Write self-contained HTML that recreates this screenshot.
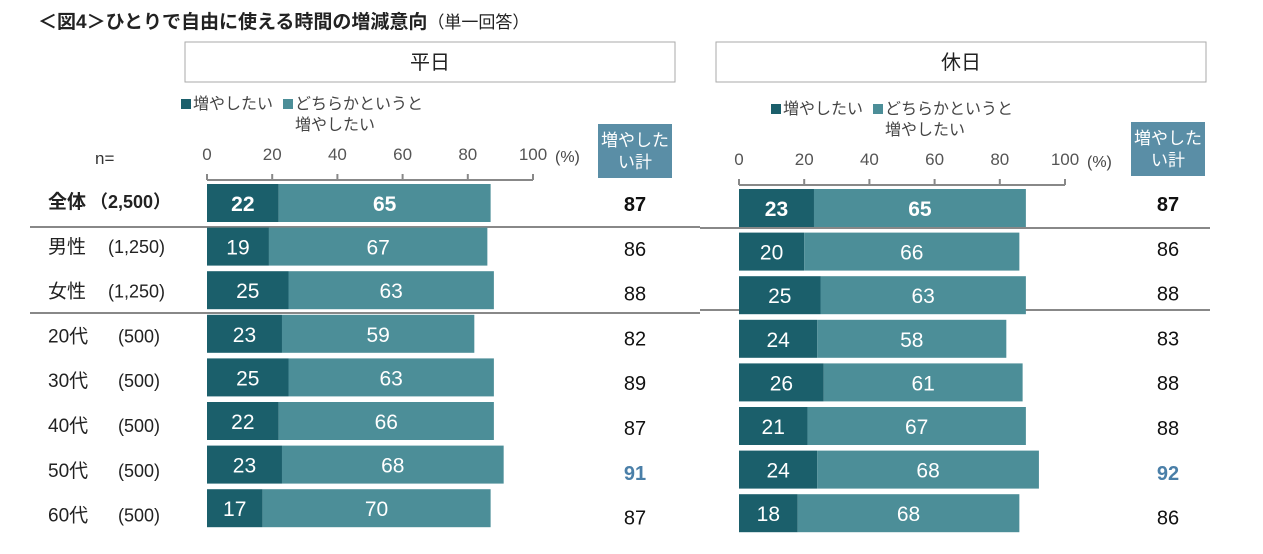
<!DOCTYPE html>
<html><head><meta charset="utf-8">
<style>
body{margin:0;width:1263px;height:549px;background:#fff;overflow:hidden;font-family:"Liberation Sans","Noto Sans CJK JP",sans-serif;}
svg text{font-family:"Liberation Sans","Noto Sans CJK JP",sans-serif;}
</style></head><body>
<svg id="c" width="1263" height="549">
<text x="38" y="28" font-size="19" font-weight="bold" fill="#222">＜図4＞ひとりで自由に使える時間の増減意向<tspan font-weight="normal" font-size="17">（単一回答）</tspan></text>
<text x="95" y="164" font-size="17" fill="#333">n=</text>
</svg>
<script>
const categories=["全体","男性","女性","20代","30代","40代","50代","60代"];
const nLabels=["(2,500)","(1,250)","(1,250)","(500)","(500)","(500)","(500)","(500)"];
const weekdayStrong=[22,19,25,23,25,22,23,17];
const weekdaySome=[65,67,63,59,63,66,68,70];
const weekdayTotal=[87,86,88,82,89,87,91,87];
const holidayStrong=[23,20,25,24,26,21,24,18];
const holidaySome=[65,66,63,58,61,67,68,68];
const holidayTotal=[87,86,88,83,88,88,92,86];
const ticks=[0,20,40,60,80,100];
const NS="http://www.w3.org/2000/svg";
const svg=document.getElementById('c');
function mk(t,a,p){const e=document.createElementNS(NS,t);for(const k in a)e.setAttribute(k,a[k]);(p||svg).appendChild(e);return e;}
const DARK="#1b5f6b",TEAL="#4c8e98";
categories.forEach((c,i)=>{
  const y=208+i*44.8;
  const b=i===0;
  const t=mk('text',{x:48,y:y,'font-size':19,fill:'#222','font-weight':b?'bold':'normal'});
  
  
  t.textContent=c;
  const n=mk('text',{x:b?90:(i<3?108:118),y:y,'font-size':18,fill:'#222','font-weight':b?'bold':'normal'});
  
  
  n.textContent=b?"（2,500）":nLabels[i];
});
function panel(title,px,x0,y0,strong,some,total,legX,legY,boxX,boxY,sepY,sepX1,sepX2){
  const sc=3.26;
  const xs=v=>x0+v*sc;
  const hb=mk('rect',{x:px,y:42,width:490,height:40,fill:'#fff',stroke:'#aaa'});
  
  
  const ht=mk('text',{x:px+245,y:69,'font-size':20,'text-anchor':'middle',fill:'#222'});
  
  
  ht.textContent=title;
  const l1=mk('rect',{x:legX,y:legY-10,width:10,height:10,fill:DARK});
  
  
  const lt1=mk('text',{x:legX+12,y:legY,'font-size':16,fill:'#444'});
  
  
  lt1.textContent="増やしたい";
  const l2=mk('rect',{x:legX+102,y:legY-10,width:10,height:10,fill:TEAL});
  
  
  const lt2=mk('text',{x:legX+114,y:legY,'font-size':16,fill:'#444'});
  
  
  lt2.innerHTML='どちらかというと<tspan x="'+(legX+114)+'" dy="21">増やしたい</tspan>';
  const ay=y0-4;
  const ax=mk('line',{x1:xs(0),x2:xs(100),y1:ay,y2:ay,stroke:'#888','stroke-width':2});
  
  
  ticks.forEach(v=>{
    const tk=mk('line',{x1:xs(v),x2:xs(v),y1:ay,y2:ay-6,stroke:'#888','stroke-width':2});
    
    
    const tl=mk('text',{x:xs(v),y:ay-20,'font-size':17,'text-anchor':'middle',fill:'#555'});
    
    
    tl.textContent=v;
  });
  const pc=mk('text',{x:xs(100)+22,y:ay-18,'font-size':16,fill:'#444'});
  
  
  pc.textContent="(%)";
  const tb=mk('rect',{x:boxX,y:boxY,width:74,height:54,fill:'#5a8ea6'});
  
  
  const tt=mk('text',{x:boxX+37,y:boxY+22,'font-size':17,'text-anchor':'middle',fill:'#fff'});
  
  
  tt.innerHTML='増やした<tspan x="'+(boxX+37)+'" dy="22">い計</tspan>';
  sepY.forEach(sy=>{
    const s=mk('line',{x1:sepX1,x2:sepX2,y1:sy,y2:sy,stroke:'#888','stroke-width':2});
    
    
  });
  categories.forEach((c,i)=>{
    const y=y0+i*43.6, h=38;
    const r1=mk('rect',{x:xs(0),y:y,width:xs(strong[i])-xs(0),height:h,fill:DARK});
    
    
    const r2=mk('rect',{x:xs(strong[i]),y:y,width:xs(strong[i]+some[i])-xs(strong[i]),height:h,fill:TEAL});
    
    
    const b=i===0;
    const v1=mk('text',{x:(xs(0)+xs(strong[i]))/2,y:y+27,'font-size':21,'text-anchor':'middle',fill:'#fff','font-weight':b?'bold':'normal'});
    
    
    v1.textContent=strong[i];
    const v2=mk('text',{x:(xs(strong[i])+xs(strong[i]+some[i]))/2,y:y+27,'font-size':21,'text-anchor':'middle',fill:'#fff','font-weight':b?'bold':'normal'});
    
    
    v2.textContent=some[i];
    const hi=total[i]>=90;
    const v3=mk('text',{x:boxX+37,y:211+i*44.8,'font-size':20,'text-anchor':'middle',fill:hi?'#4a7fa8':'#111','font-weight':(b||hi)?'bold':'normal'});
    
    
    v3.textContent=total[i];
  });
}
panel('平日',185,207,184,weekdayStrong,weekdaySome,weekdayTotal,181,109,598,124,[227,313],30,700);
panel('休日',716,739,189,holidayStrong,holidaySome,holidayTotal,771,114,1131,122,[228,310],700,1210);
</script>
</body></html>
